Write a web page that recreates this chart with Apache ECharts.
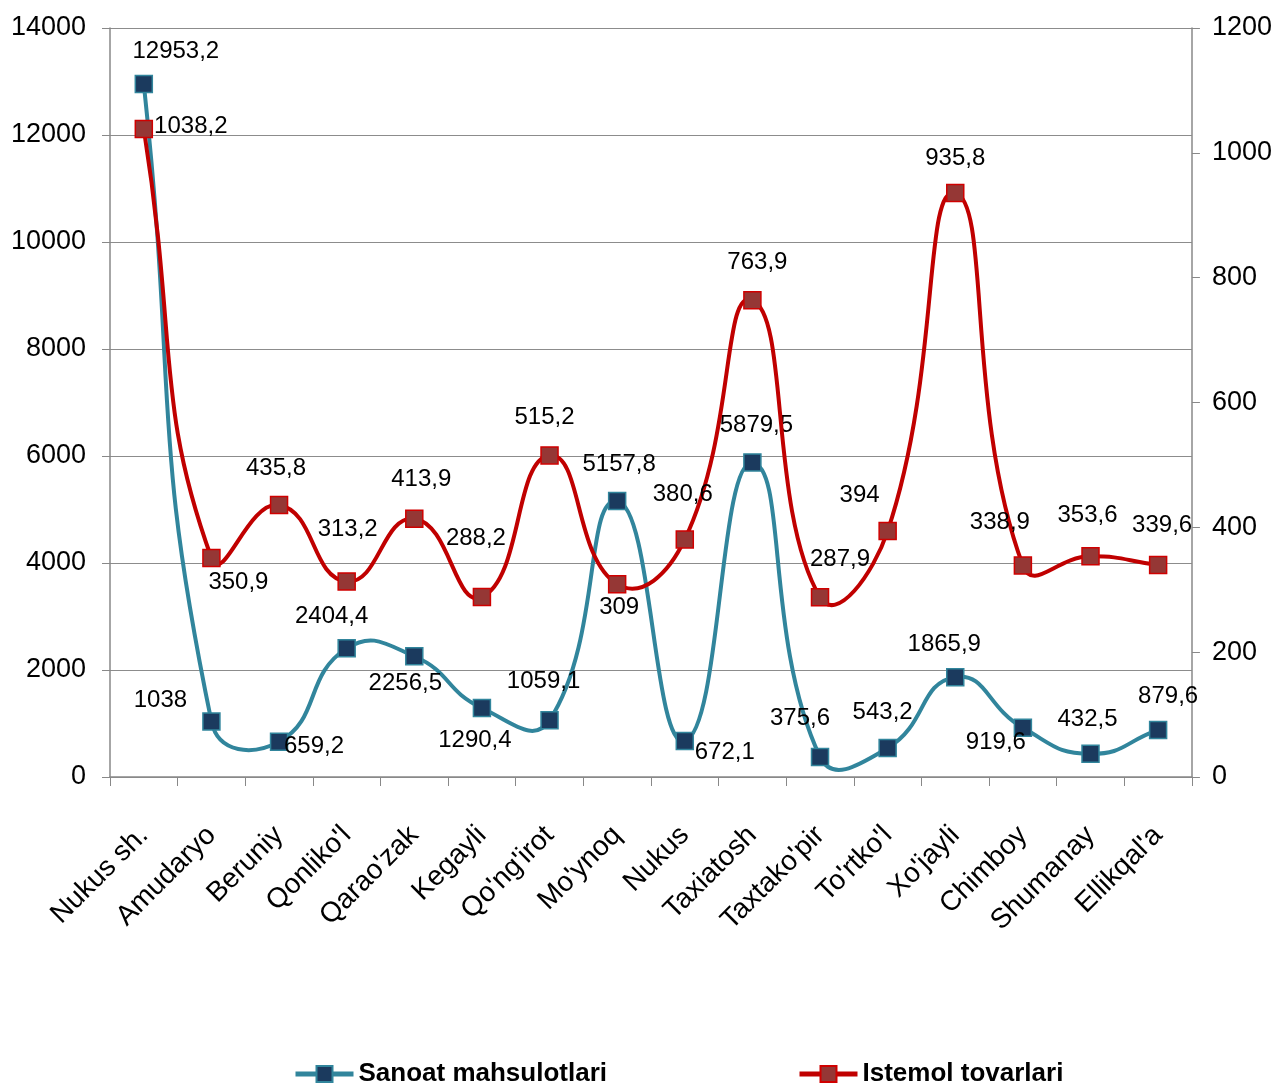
<!DOCTYPE html>
<html><head><meta charset="utf-8">
<script src="https://cdn.jsdelivr.net/npm/echarts@6/dist/echarts.min.js"></script>
<style>html,body{margin:0;padding:0;background:#fff}#c{width:1275px;height:1086px}</style>
</head><body><div id="c"></div>
<script>
const categories = ["Nukus sh.","Amudaryo","Beruniy","Qonliko'l","Qarao'zak","Kegayli","Qo'ng'irot","Mo'ynoq","Nukus","Taxiatosh","Taxtako'pir","To'rtko'l","Xo'jayli","Chimboy","Shumanay","Ellikqal'a"];
const sanoat = [12953.2,1038,659.2,2404.4,2256.5,1290.4,1059.1,5157.8,672.1,5879.5,375.6,543.2,1865.9,919.6,432.5,879.6];
const istemol = [1038.2,350.9,435.8,313.2,413.9,288.2,515.2,309,380.6,763.9,287.9,394,935.8,338.9,353.6,339.6];
const seriesNames = ["Sanoat mahsulotlari","Istemol tovarlari"];
const leftTicks = {min:0,max:14000,interval:2000};
const rightTicks = {min:0,max:1200,interval:200};

// label offsets (pixels, relative to marker centre)
const sanoatOffsets = [[32,-33],[-51,-21],[35,5],[-15,-32],[-9,27],[-7,32],[-6,-39],[2,-37],[40,11],[4,-37],[-20,-39],[-5,-36],[-11,-33],[-27,15],[-3,-34],[10,-34]];
const istemolOffsets = [[47,-3],[27,24],[-3,-37],[1,-52],[7,-39],[-6,-59],[-5,-38],[2,23],[-2,-45],[5,-38],[20,-38],[-28,-36],[0,-35],[-23,-43],[-3,-41],[4,-40]];

const TEAL = '#31859C', NAVY = '#1B3A5E', RED = '#C00000', BROWN = '#953735';
const fmt = v => String(v).replace('.', ',');
const labelFont = {fontFamily:'Liberation Sans, Arial, sans-serif', fontSize:24, color:'#000'};

function build(vals, offs){
  return vals.map((v,i)=>({value:v, label:{show:true, position:'inside', offset:offs[i], formatter:fmt(v), ...labelFont}}));
}

// Excel-like smooth curve (unclamped Bezier, tangents weighted by segment lengths)
function curveRenderer(vals, color){
  return function(params, api){
    const P = vals.map((v,i)=>api.coord([i, v]));
    const n = P.length, f = 0.5;
    const dist = (a,b)=>Math.hypot(b[0]-a[0], b[1]-a[1]);
    let d = 'M' + P[0][0] + ' ' + P[0][1];
    for (let i=0;i<n-1;i++){
      const p0 = P[Math.max(0,i-1)], p1 = P[i], p2 = P[i+1], p3 = P[Math.min(n-1,i+2)];
      const d01 = dist(p0,p1), d12 = dist(p1,p2), d23 = dist(p2,p3);
      const r1 = (d01+d12) > 0 ? d12/(d01+d12) : 0.5;
      const r2 = (d12+d23) > 0 ? d12/(d12+d23) : 0.5;
      const c1 = [p1[0] + (p2[0]-p0[0])*f*r1, p1[1] + (p2[1]-p0[1])*f*r1];
      const c2 = [p2[0] - (p3[0]-p1[0])*f*r2, p2[1] - (p3[1]-p1[1])*f*r2];
      d += ' C' + c1[0] + ' ' + c1[1] + ' ' + c2[0] + ' ' + c2[1] + ' ' + p2[0] + ' ' + p2[1];
    }
    return {type:'path', shape:{pathData:d}, style:{fill:'none', stroke:color, lineWidth:4, lineJoin:'round', lineCap:'round'}, silent:true};
  };
}

const chart = echarts.init(document.getElementById('c'), null, {renderer:'canvas'});
chart.setOption({
  animation:false,
  backgroundColor:'#fff',
  grid:{left:110,right:82,top:28,bottom:309,containLabel:false},
  legend:{
    bottom:-6, left:288, itemGap:190, itemWidth:58, itemHeight:20,
    textStyle:{fontFamily:'Liberation Sans Narrow, Arial Narrow, Liberation Sans, sans-serif', fontSize:26, fontWeight:'bold', color:'#000'},
    data:[
      {name:seriesNames[0], lineStyle:{color:TEAL, width:5, opacity:1}},
      {name:seriesNames[1], lineStyle:{color:RED, width:5, opacity:1}}
    ]
  },
  xAxis:{
    type:'category', data:categories, boundaryGap:true,
    axisLine:{lineStyle:{color:'#888',width:1.5}},
    axisTick:{show:true,alignWithLabel:false,length:9,lineStyle:{color:'#888'}},
    axisLabel:{rotate:45, interval:0, margin:54, fontFamily:'Liberation Sans, Arial, sans-serif', fontSize:28, color:'#000'}
  },
  yAxis:[
    {type:'value', min:leftTicks.min, max:leftTicks.max, interval:leftTicks.interval,
     axisLine:{show:true,lineStyle:{color:'#888',width:1.5}},
     axisTick:{show:true,length:8,lineStyle:{color:'#888'}},
     axisLabel:{margin:24, formatter:v=>String(v), fontFamily:'Liberation Sans, Arial, sans-serif', fontSize:27, color:'#000'},
     splitLine:{show:true,lineStyle:{color:'#8c8c8c',width:1.2}}},
    {type:'value', min:rightTicks.min, max:rightTicks.max, interval:rightTicks.interval, position:'right',
     axisLine:{show:true,lineStyle:{color:'#888',width:1.5}},
     axisTick:{show:true,length:8,lineStyle:{color:'#888'}},
     axisLabel:{margin:20, formatter:v=>String(v), fontFamily:'Liberation Sans, Arial, sans-serif', fontSize:27, color:'#000'},
     splitLine:{show:false}}
  ],
  series:[
    {name:'curve-sanoat', type:'custom', yAxisIndex:0, data:[[0,0]], renderItem:curveRenderer(sanoat, TEAL), clip:false, z:2, silent:true},
    {name:'curve-istemol', type:'custom', yAxisIndex:1, data:[[0,0]], renderItem:curveRenderer(istemol, RED), clip:false, z:4, silent:true},
    {name:seriesNames[0], type:'line', yAxisIndex:0, data:build(sanoat,sanoatOffsets),
     symbol:'rect', symbolSize:17,
     lineStyle:{color:TEAL,width:4,opacity:0},
     itemStyle:{color:NAVY,borderColor:TEAL,borderWidth:1.5},
     emphasis:{disabled:true}, z:3},
    {name:seriesNames[1], type:'line', yAxisIndex:1, data:build(istemol,istemolOffsets),
     symbol:'rect', symbolSize:17,
     lineStyle:{color:RED,width:4,opacity:0},
     itemStyle:{color:BROWN,borderColor:'#D00000',borderWidth:1.5},
     emphasis:{disabled:true}, z:5}
  ]
});
</script></body></html>
